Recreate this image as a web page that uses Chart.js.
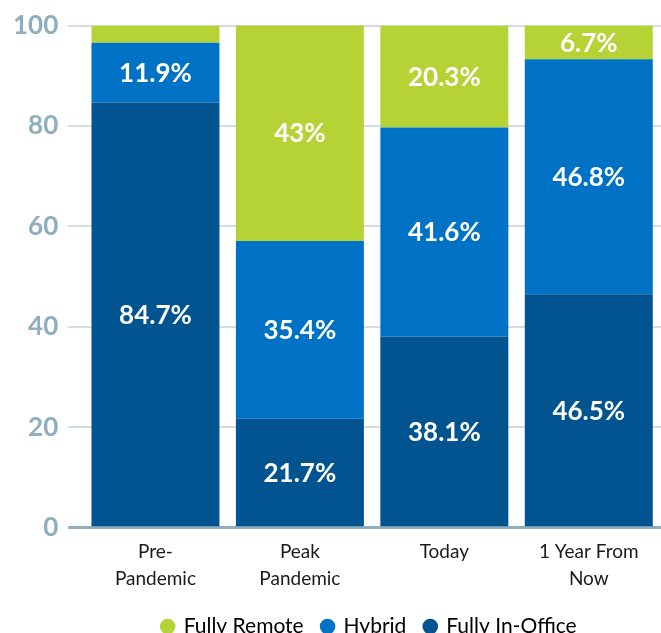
<!DOCTYPE html>
<html>
<head>
<meta charset="utf-8">
<script src="https://cdn.jsdelivr.net/npm/chart.js@4"></script>
<style>
  html, body { margin: 0; padding: 0; background: #fff; }
  #wrap { width: 661px; height: 633px; }
</style>
</head>
<body>
<div id="wrap"><canvas id="workChart"></canvas></div>
<script>
// ---- data ----
const categories = [["Pre-", "Pandemic"], ["Peak", "Pandemic"], "Today", ["1 Year From", "Now"]];
const fullyInOffice = [84.7, 21.7, 38.1, 46.5];
const hybrid = [11.9, 35.4, 41.6, 46.8];
const fullyRemote = [3.4, 43, 20.3, 6.7];
const hideLabelBelow = 5;

const fontFamily = "Lato, 'Open Sans', sans-serif";

// white value labels in the middle of each segment
const segmentLabels = {
  id: "segmentLabels",
  afterDatasetsDraw(chart) {
    const { ctx } = chart;
    ctx.save();
    ctx.fillStyle = "#ffffff";
    ctx.font = "bold 26px " + fontFamily;
    ctx.textAlign = "center";
    ctx.textBaseline = "middle";
    chart.data.datasets.forEach((ds, i) => {
      const meta = chart.getDatasetMeta(i);
      if (meta.hidden) return;
      meta.data.forEach((bar, j) => {
        const v = ds.data[j];
        if (v < hideLabelBelow) return;
        const mid = (bar.y + bar.base) / 2;
        ctx.fillText(v + "%", bar.x, mid + 1);
      });
    });
    ctx.restore();
  }
};

const chart = new Chart(document.getElementById("workChart"), {
  type: "bar",
  data: {
    labels: categories,
    datasets: [
      { label: "Fully Remote", data: fullyRemote, backgroundColor: "#b5d334", order: 3 },
      { label: "Hybrid", data: hybrid, backgroundColor: "#0072c6", order: 2 },
      { label: "Fully In-Office", data: fullyInOffice, backgroundColor: "#01548f", order: 1 }
    ]
  },
  options: {
    responsive: true,
    maintainAspectRatio: false,
    animation: false,
    layout: { padding: { top: 6, right: 0, left: 3, bottom: -14 } },
    datasets: { bar: { categoryPercentage: 0.886, barPercentage: 1 } },
    plugins: {
      tooltip: { enabled: false },
      legend: {
        position: "bottom",
        fullSize: false,
        labels: {
          usePointStyle: true,
          pointStyle: "circle",
          boxWidth: 11,
          boxHeight: 11,
          padding: 13,
          color: "#1a1a1a",
          font: { family: fontFamily, size: 21 },
          generateLabels(chart) {
            return chart.data.datasets.map((ds, i) => ({
              text: ds.label + " ",
              fillStyle: ds.backgroundColor,
              strokeStyle: ds.backgroundColor,
              lineWidth: 0,
              pointStyle: "circle",
              datasetIndex: i,
              hidden: false
            }));
          }
        }
      }
    },
    scales: {
      x: {
        stacked: true,
        grid: { display: false, drawTicks: false },
        border: { display: false },
        ticks: {
          color: "#1a1a1a",
          padding: 11,
          maxRotation: 0,
          font: { family: fontFamily, size: 19, lineHeight: 1.4 }
        }
      },
      y: {
        stacked: true,
        min: 0,
        max: 100,
        border: { display: false },
        grid: {
          color: c => c.tick && c.tick.value === 0 ? "#8eaebf" : "#d3dde4",
          lineWidth: c => c.tick && c.tick.value === 0 ? 3 : 2,
          tickLength: 15,
          z: -1
        },
        ticks: {
          stepSize: 20,
          padding: 10,
          color: "#8eaebf",
          font: { family: fontFamily, size: 26, weight: "bold" }
        }
      }
    }
  },
  plugins: [segmentLabels]
});
</script>
</body>
</html>
